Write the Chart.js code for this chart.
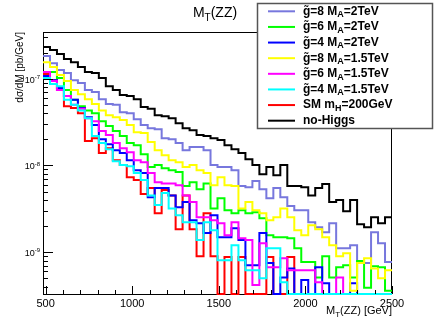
<!DOCTYPE html>
<html>
<head>
<meta charset="utf-8">
<script src="https://cdn.jsdelivr.net/npm/chart.js@4.4.0/dist/chart.umd.min.js"></script>
<style>
  html, body { margin: 0; padding: 0; background: #fff; }
  canvas { display: block; }
</style>
</head>
<body>
<canvas id="chart" width="436" height="327"></canvas>
<script>
// binning of the M_T(ZZ) histograms [GeV]
const binLow = 485;
const binWidth = 40.3;
const nBins = 50;

// axis range and tick labels
const xMin = 485, xMax = 2500;
const yMin = 3.3e-10, yMax = 3.45e-7;
const xTicks = [500, 1000, 1500, 2000, 2500];
const yDecades = [-9, -8, -7];

// dsigma/dM [pb/GeV] per bin, 0 = empty bin
const noHiggs = [2.31e-7, 2.14e-7, 1.92e-7, 1.68e-7, 1.55e-7, 1.36e-7, 1.19e-7, 1.16e-7, 1.02e-7, 8.2e-8,
  7.4e-8, 6.5e-8, 6.3e-8, 5.8e-8, 4.7e-8, 4.5e-8, 3.8e-8, 3.7e-8, 3.5e-8, 3.07e-8,
  2.69e-8, 2.55e-8, 2.24e-8, 2.18e-8, 2.06e-8, 1.96e-8, 1.71e-8, 1.54e-8, 1.39e-8, 1.18e-8,
  1.01e-8, 7.9e-9, 9.6e-9, 7.7e-9, 1.01e-8, 5.8e-9, 5.8e-9, 5.6e-9, 4.5e-9, 5.5e-9,
  6.1e-9, 3.8e-9, 4.0e-9, 2.97e-9, 4.0e-9, 2.10e-9, 1.94e-9, 2.53e-9, 2.16e-9, 2.53e-9];

const g8M2 = [1.82e-7, 1.51e-7, 1.26e-7, 1.16e-7, 9.6e-8, 8.9e-8, 7.4e-8, 7.0e-8, 5.8e-8, 5.1e-8,
  5.0e-8, 4.1e-8, 4.0e-8, 3.4e-8, 2.92e-8, 2.69e-8, 2.62e-8, 2.06e-8, 2.01e-8, 1.81e-8,
  1.50e-8, 1.63e-8, 1.63e-8, 1.50e-8, 1.01e-8, 9.6e-9, 9.6e-9, 8.8e-9, 5.8e-9, 5.6e-9,
  6.6e-9, 5.3e-9, 4.2e-9, 5.5e-9, 4.3e-9, 3.4e-9, 3.05e-9, 3.05e-9, 2.22e-9, 1.94e-9,
  1.70e-9, 2.16e-9, 1.11e-9, 1.11e-9, 1.20e-9, 7.5e-10, 7.5e-10, 1.70e-9, 1.27e-9, 7.7e-10];

const g6M2 = [1.19e-7, 1.19e-7, 1.02e-7, 7.4e-8, 5.7e-8, 4.8e-8, 4.3e-8, 4.0e-8, 3.24e-8, 2.84e-8,
  2.49e-8, 2.18e-8, 1.81e-8, 1.71e-8, 1.35e-8, 9.6e-9, 1.01e-8, 9.3e-9, 8.8e-9, 8.4e-9,
  5.8e-9, 6.4e-9, 5.3e-9, 6.2e-9, 3.2e-9, 4.2e-9, 3.05e-9, 2.82e-9, 3.05e-9, 2.82e-9,
  2.89e-9, 2.47e-9, 1.57e-9, 1.49e-9, 1.49e-9, 1.45e-9, 1.11e-9, 7.7e-10, 7.7e-10, 5.1e-10,
  9.0e-10, 5.1e-10, 6.7e-10, 7.1e-10, 5.1e-10, 7.9e-10, 3.9e-10, 6.9e-10, 6.7e-10, 3.6e-10];

const g4M2 = [1.07e-7, 9.6e-8, 7.8e-8, 6.3e-8, 5.7e-8, 4.6e-8, 3.6e-8, 2.92e-8, 2.01e-8, 1.76e-8,
  1.50e-8, 1.39e-8, 1.15e-8, 8.8e-9, 8.2e-9, 4.3e-9, 5.5e-9, 5.5e-9, 4.5e-9, 3.3e-9,
  3.8e-9, 2.34e-9, 2.16e-9, 1.66e-9, 2.67e-9, 1.49e-9, 1.49e-9, 1.89e-9, 1.38e-9, 7.1e-10,
  7.1e-10, 1.66e-9, 7.5e-10, 0, 5.1e-10, 6.5e-10, 0, 4.8e-10, 0, 6.7e-10,
  4.4e-10, 0, 0, 0, 4.4e-10, 0, 0, 0, 0, 0];

const g8M15 = [1.55e-7, 1.36e-7, 1.10e-7, 9.4e-8, 7.4e-8, 6.6e-8, 5.8e-8, 5.1e-8, 4.3e-8, 3.8e-8,
  3.6e-8, 3.33e-8, 2.92e-8, 2.42e-8, 2.36e-8, 1.86e-8, 1.50e-8, 1.31e-8, 1.15e-8, 1.09e-8,
  9.6e-9, 1.01e-8, 8.8e-9, 8.2e-9, 5.9e-9, 7.3e-9, 5.9e-9, 5.8e-9, 3.2e-9, 3.8e-9,
  3.05e-9, 2.82e-9, 2.34e-9, 2.53e-9, 3.2e-9, 2.53e-9, 1.79e-9, 1.57e-9, 2.05e-9, 1.84e-9,
  1.49e-9, 1.20e-9, 9.0e-10, 9.7e-10, 3.6e-10, 7.5e-10, 8.5e-10, 6.5e-10, 5.0e-10, 6.2e-10];

const g6M15 = [1.19e-7, 9.4e-8, 7.4e-8, 6.3e-8, 5.0e-8, 4.5e-8, 3.5e-8, 3.24e-8, 2.49e-8, 2.24e-8,
  1.81e-8, 1.58e-8, 1.42e-8, 1.15e-8, 1.09e-8, 8.2e-9, 6.4e-9, 6.2e-9, 6.2e-9, 5.9e-9,
  4.5e-9, 3.8e-9, 2.53e-9, 2.53e-9, 2.34e-9, 2.16e-9, 1.57e-9, 2.22e-9, 1.45e-9, 1.38e-9,
  4.2e-10, 1.27e-9, 6.7e-10, 6.7e-10, 8.5e-10, 6.2e-10, 6.2e-10, 6.2e-10, 6.2e-10, 4.5e-10,
  0, 0, 5.1e-10, 0, 0, 0, 0, 0, 0, 0];

const g4M15 = [1.02e-7, 8.7e-8, 8.2e-8, 5.7e-8, 5.0e-8, 4.3e-8, 3.5e-8, 2.18e-8, 1.81e-8, 1.54e-8,
  1.12e-8, 1.01e-8, 9.8e-9, 8.2e-9, 6.8e-9, 4.5e-9, 3.5e-9, 4.8e-9, 3.2e-9, 2.67e-9,
  2.22e-9, 2.22e-9, 1.38e-9, 2.22e-9, 1.79e-9, 8.1e-10, 8.1e-10, 1.20e-9, 8.1e-10, 6.2e-10,
  6.2e-10, 5.0e-10, 1.11e-9, 1.11e-9, 4.5e-10, 0, 0, 0, 0, 0,
  0, 0, 0, 0, 0, 0, 0, 0, 0, 0];

const smH200 = [1.13e-7, 9.6e-8, 7.4e-8, 4.8e-8, 4.6e-8, 4.0e-8, 1.91e-8, 2.06e-8, 1.39e-8, 1.58e-8,
  1.15e-8, 1.01e-8, 7.3e-9, 6.8e-9, 4.7e-9, 5.5e-9, 2.82e-9, 5.2e-9, 4.5e-9, 1.84e-9,
  4.5e-9, 1.84e-9, 9.0e-10, 2.82e-9, 9.0e-10, 0, 8.8e-10, 0, 8.8e-10, 0,
  0, 0, 8.8e-10, 0, 0, 8.8e-10, 0, 0, 0, 0,
  0, 0, 0, 0, 0, 0, 0, 0, 0, 0];

// legend order, z = drawing order (0 on top)
const series = [
  { label: 'g\u0303=8 M_{A}=2TeV',   color: '#7777dd', values: g8M2,    z: 6 },
  { label: 'g\u0303=6 M_{A}=2TeV',   color: '#00ff00', values: g6M2,    z: 4 },
  { label: 'g\u0303=4 M_{A}=2TeV',   color: '#0000ff', values: g4M2,    z: 3 },
  { label: 'g\u0303=8 M_{A}=1.5TeV', color: '#ffff00', values: g8M15,   z: 2 },
  { label: 'g\u0303=6 M_{A}=1.5TeV', color: '#ff00ff', values: g6M15,   z: 1 },
  { label: 'g\u0303=4 M_{A}=1.5TeV', color: '#00ffff', values: g4M15,   z: 0 },
  { label: 'SM m_{H}=200GeV',        color: '#ff0000', values: smH200,  z: 5 },
  { label: 'no-Higgs',               color: '#000000', values: noHiggs, z: 7 },
];

const FONT = '"Liberation Sans", Arial, Helvetica, sans-serif';
const edges = Array.from({ length: nBins + 1 }, (_, i) => binLow + i * binWidth);

// ROOT draws empty bins on the lower frame edge
function toPoints(vals) {
  const pts = vals.map((v, i) => ({ x: edges[i], y: v > 0 ? v : yMin }));
  pts.push({ x: edges[nBins], y: pts[nBins - 1].y });
  return pts;
}

// text with _{sub} and ^{sup} pieces
function drawRich(ctx, text, x, y, size, weight, align) {
  const parts = [];
  const re = /([_^])\{([^}]*)\}/g;
  let last = 0, m;
  while ((m = re.exec(text))) {
    if (m.index > last) parts.push({ s: text.slice(last, m.index), k: '' });
    parts.push({ s: m[2], k: m[1] });
    last = re.lastIndex;
  }
  if (last < text.length) parts.push({ s: text.slice(last), k: '' });
  const fontFor = p => `${weight} ${p.k ? Math.round(size * 0.72) : size}px ${FONT}`;
  let w = 0;
  parts.forEach(p => { ctx.font = fontFor(p); p.w = ctx.measureText(p.s).width; w += p.w; });
  let cx = align === 'right' ? x - w : align === 'center' ? x - w / 2 : x;
  ctx.textAlign = 'left';
  parts.forEach(p => {
    ctx.font = fontFor(p);
    const dy = p.k === '_' ? size * 0.28 : p.k === '^' ? -size * 0.42 : 0;
    ctx.fillText(p.s, cx, y + dy);
    cx += p.w;
  });
}

const rootFrame = {
  id: 'rootFrame',
  beforeDatasetsDraw(chart) {
    const { ctx, chartArea: a } = chart;
    ctx.save();
    ctx.strokeStyle = '#000';
    ctx.lineWidth = 1;
    ctx.strokeRect(a.left + 0.5, a.top + 0.5, a.right - a.left - 1, a.bottom - a.top);
    ctx.restore();
  },
  afterDraw(chart) {
    const { ctx, chartArea: a } = chart;
    const x = chart.scales.x, y = chart.scales.y;
    ctx.save();
    ctx.strokeStyle = '#000';
    ctx.fillStyle = '#000';
    ctx.lineWidth = 1;

    // x ticks, minor every fifth of a major step
    const step = (xTicks[1] - xTicks[0]) / 5;
    ctx.beginPath();
    for (let v = xTicks[0]; v <= xMax + 0.1; v += step) {
      const px = Math.round(x.getPixelForValue(v)) + 0.5;
      const major = xTicks.some(t => Math.abs(t - v) < 0.1);
      ctx.moveTo(px, a.bottom);
      ctx.lineTo(px, a.bottom - (major ? 8 : 4));
    }
    // y ticks on the log axis
    for (let d = -10; d <= -7; d++) {
      for (let k = 1; k <= 9; k++) {
        const v = k * Math.pow(10, d);
        if (v < yMin || v > yMax) continue;
        const py = Math.round(y.getPixelForValue(v)) + 0.5;
        ctx.moveTo(a.left, py);
        ctx.lineTo(a.left + (k === 1 ? 10 : 5), py);
      }
    }
    ctx.stroke();

    // tick labels
    ctx.textBaseline = 'alphabetic';
    xTicks.forEach(t => {
      drawRich(ctx, String(t), x.getPixelForValue(t), a.bottom + 13, 11, 'normal', 'center');
    });
    yDecades.forEach(d => {
      drawRich(ctx, '10^{' + d + '}', a.left - 3, y.getPixelForValue(Math.pow(10, d)) + 4, 9, 'normal', 'right');
    });

    // titles
    drawRich(ctx, 'M_{T}(ZZ)', 215, 17, 14, 'normal', 'center');
    drawRich(ctx, 'M_{T}(ZZ) [GeV]', a.right, 314, 11, 'normal', 'right');
    ctx.save();
    ctx.translate(23, a.top);
    ctx.rotate(-Math.PI / 2);
    drawRich(ctx, 'd\u03c3/dM\u0332 [pb/GeV]', 0, 0, 10, 'normal', 'right');
    ctx.restore();

    // legend box
    const lx = 257, ly = 3, lw = 175, lh = 125;
    ctx.fillStyle = '#fff';
    ctx.fillRect(lx, ly, lw, lh);
    ctx.strokeStyle = '#555';
    ctx.lineWidth = 1.5;
    ctx.strokeRect(lx + 0.5, ly + 0.5, lw, lh);
    const rowH = lh / series.length;
    series.forEach((s, i) => {
      const cy = ly + rowH * (i + 0.5) + 0.5;
      ctx.strokeStyle = s.color;
      ctx.lineWidth = 2;
      ctx.beginPath();
      ctx.moveTo(268, cy);
      ctx.lineTo(295, cy);
      ctx.stroke();
      ctx.fillStyle = '#000';
      ctx.textBaseline = 'middle';
      drawRich(ctx, s.label, 303, cy, 12, 'bold', 'left');
    });
    ctx.restore();
  }
};

new Chart(document.getElementById('chart'), {
  type: 'line',
  data: {
    datasets: series.map(s => ({
      label: s.label,
      data: toPoints(s.values),
      borderColor: s.color,
      borderWidth: 2,
      pointRadius: 0,
      stepped: 'before',
      fill: false,
      order: s.z,
      clip: false,
    })),
  },
  options: {
    responsive: false,
    animation: false,
    devicePixelRatio: 1,
    events: [],
    layout: { padding: { left: 43, top: 32, right: 44, bottom: 33 } },
    scales: {
      x: { type: 'linear', min: xMin, max: xMax, display: false },
      y: { type: 'logarithmic', min: yMin, max: yMax, display: false },
    },
    plugins: {
      legend: { display: false },
      tooltip: { enabled: false },
    },
  },
  plugins: [rootFrame],
});
</script>
</body>
</html>
